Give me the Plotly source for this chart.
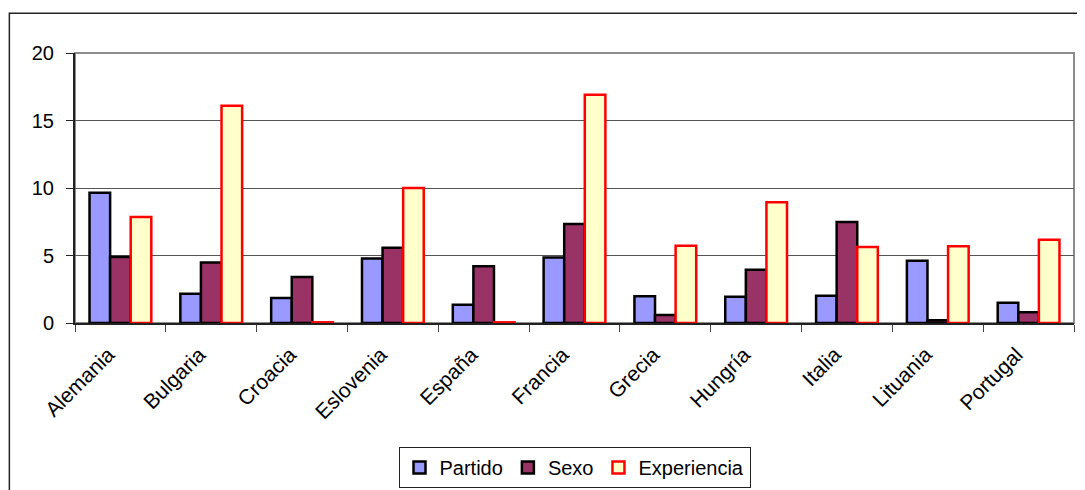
import plotly.graph_objects as go

# Países y valores por serie
paises = ["Alemania", "Bulgaria", "Croacia", "Eslovenia", "España", "Francia",
          "Grecia", "Hungría", "Italia", "Lituania", "Portugal"]
partido = [9.65, 2.17, 1.85, 4.77, 1.36, 4.86, 1.98, 1.95, 2.02, 4.62, 1.5]
sexo = [4.89, 4.49, 3.41, 5.58, 4.2, 7.33, 0.6, 3.95, 7.48, 0.2, 0.79]
experiencia = [7.85, 16.1, 0.05, 10.0, 0.05, 16.9, 5.73, 8.94, 5.63, 5.68, 6.17]

FONT = "Liberation Sans, Arial, sans-serif"

fig = go.Figure()
fig.add_trace(go.Bar(name="Partido", x=paises, y=partido,
                     marker=dict(color="#9999FF", line=dict(color="black", width=2.5))))
fig.add_trace(go.Bar(name="Sexo", x=paises, y=sexo,
                     marker=dict(color="#993366", line=dict(color="black", width=2.5))))
fig.add_trace(go.Bar(name="Experiencia", x=paises, y=experiencia,
                     marker=dict(color="#FFFFCC", line=dict(color="#FF0000", width=2.5))))

# la página añade 8 px de margen al body, así que el lienzo es 8 px más pequeño
fig.update_layout(
    width=1077,
    height=482,
    margin=dict(l=67, r=11, t=45, b=167, autoexpand=False),
    paper_bgcolor="white",
    plot_bgcolor="white",
    font=dict(family=FONT, size=20, color="black"),
    barmode="group",
    bargap=0.32,
    bargroupgap=0,
    showlegend=True,
    legend=dict(
        orientation="h",
        x=0.5, xanchor="center",
        y=-0.611, yanchor="bottom",
        bordercolor="#222", borderwidth=1,
        font=dict(size=20),
        traceorder="normal",
        tracegroupgap=0,
    ),
    shapes=[
        # borde del área de trazado (gris)
        dict(type="rect", xref="paper", yref="paper", x0=0, x1=1, y0=0, y1=1,
             line=dict(color="#8c8c8c", width=2), layer="below"),
        # borde exterior del gráfico
        dict(type="rect", xref="paper", yref="paper", x0=-0.0657, x1=1.2, y0=-1.0, y1=1.147,
             line=dict(color="#222", width=1.5), layer="below"),
    ],
)

fig.update_xaxes(
    automargin=False,
    showline=True, linecolor="#222", linewidth=2,
    ticks="outside", tickson="boundaries", ticklen=7, tickcolor="#444", tickwidth=1,
    tickangle=-45, tickfont=dict(size=21),
    ticklabelstandoff=9, ticklabelshift=-12,
    showgrid=False,
)
fig.update_yaxes(
    automargin=False,
    range=[0, 20], dtick=5,
    showline=True, linecolor="#222", linewidth=2,
    ticks="outside", ticklen=7, tickcolor="#222",
    ticklabelstandoff=8,
    showgrid=True, gridcolor="#555", gridwidth=1,
    zeroline=False,
    tickfont=dict(size=20),
)

fig.write_html("out.html")
